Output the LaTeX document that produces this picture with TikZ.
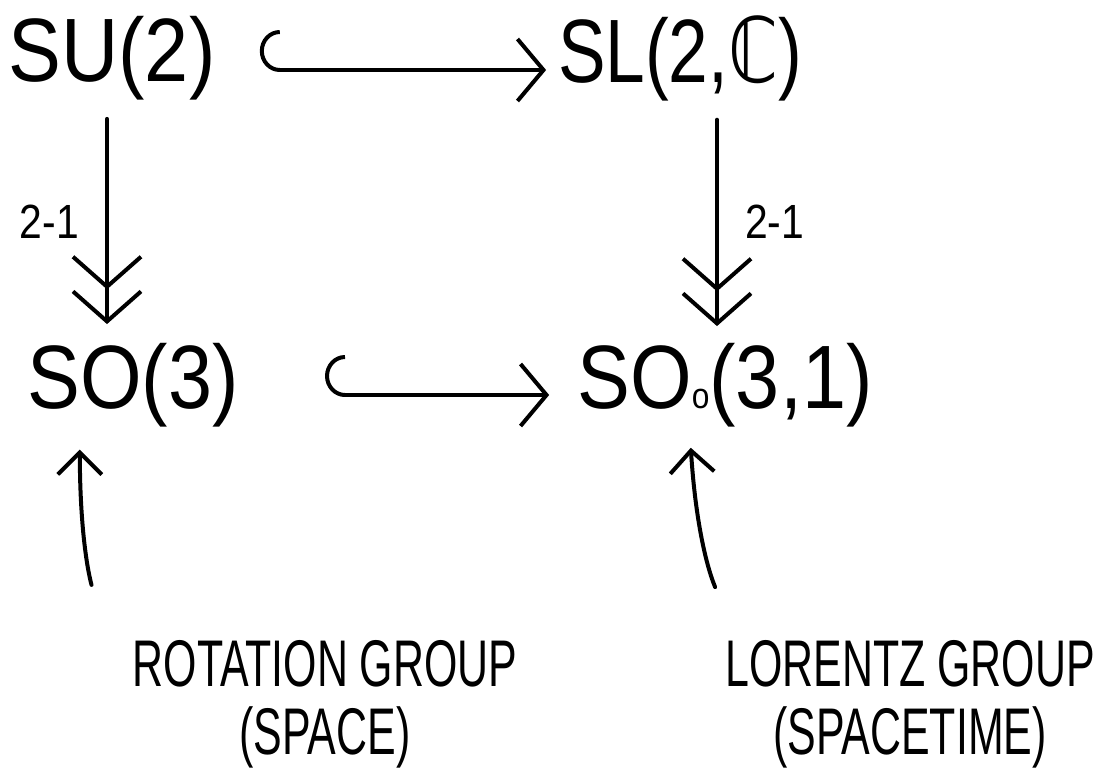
\documentclass[tikz,border=0pt]{standalone}
\usepackage{fontspec}
\setmainfont{Liberation Sans}
\newfontfamily\dvfont{DejaVu Sans}
\usetikzlibrary{arrows.meta, bending}

\begin{document}
\begin{tikzpicture}[
        x=1pt, y=-1pt,
        line width=4pt, line cap=round, line join=round,
        every node/.style={inner sep=3pt, transform shape},
        group/.style={font=\fontsize{90}{90}\selectfont, xscale=0.88},
        caption/.style={font=\fontsize{66}{68}\selectfont, xscale=0.65, align=center},
        ratio/.style={font=\fontsize{48}{48}\selectfont, xscale=0.85},
        embed/.style={{Hooks[right,length=20pt,width=80pt]}-{Straight Barb[length=26pt,width=62pt]}},
        cover/.style={-{Straight Barb[length=30pt,width=68pt]Straight Barb[length=30pt,width=68pt,sep=-16pt]}},
        point/.style={-{Straight Barb[length=22pt,width=44pt]}}
    ]
        \useasboundingbox (0,0) rectangle (1119,772);

        \node[group] (su2) at (112,58) {SU(2)};
        \node[group, xscale=0.9] (sl2c) at (680,58) {SL(2,{\dvfont ℂ})};
        \node[group] (so3) at (133,385) {SO(3)};
        \node[group] (so31) at (725,385) {SO{\fontsize{36}{36}\selectfont o}(3,1)};

        \node[caption] (rot) at (325,704) {ROTATION GROUP\\(SPACE)};
        \node[caption] (lor) at (910,704) {LORENTZ GROUP\\(SPACETIME)};

        % inclusions
        \draw[embed, shorten <=40pt, shorten >=8pt]
            ([yshift=-12pt]su2.east) -- ([yshift=-12pt]su2.east -| sl2c.west);
        \draw[embed, shorten <=82pt, shorten >=24pt]
            ([yshift=-10pt]so3.east) -- ([yshift=-10pt]so3.east -| so31.west);

        % double covers
        \draw[cover, shorten <=14pt, shorten >=30pt]
            ([xshift=-5pt]su2.south) -- node[ratio, left=28pt] (r1) {2-1}
            ([xshift=-5pt]su2.south |- so3.north);
        \draw[cover, shorten <=14pt, shorten >=28pt]
            ([xshift=37pt]sl2c.south) -- node[ratio, right=28pt] (r2) {2-1}
            ([xshift=37pt]sl2c.south |- so31.north);

        % names
        \draw[point, shorten <=52pt, shorten >=18pt]
            ([xshift=-220pt]rot.north) to[bend left=8] ([xshift=-53pt]so3.south);
        \draw[point, shorten <=52pt, shorten >=16pt]
            ([xshift=-175pt]lor.north) to[bend left=10] ([xshift=-35pt]so31.south);
    \end{tikzpicture}
\end{document}
